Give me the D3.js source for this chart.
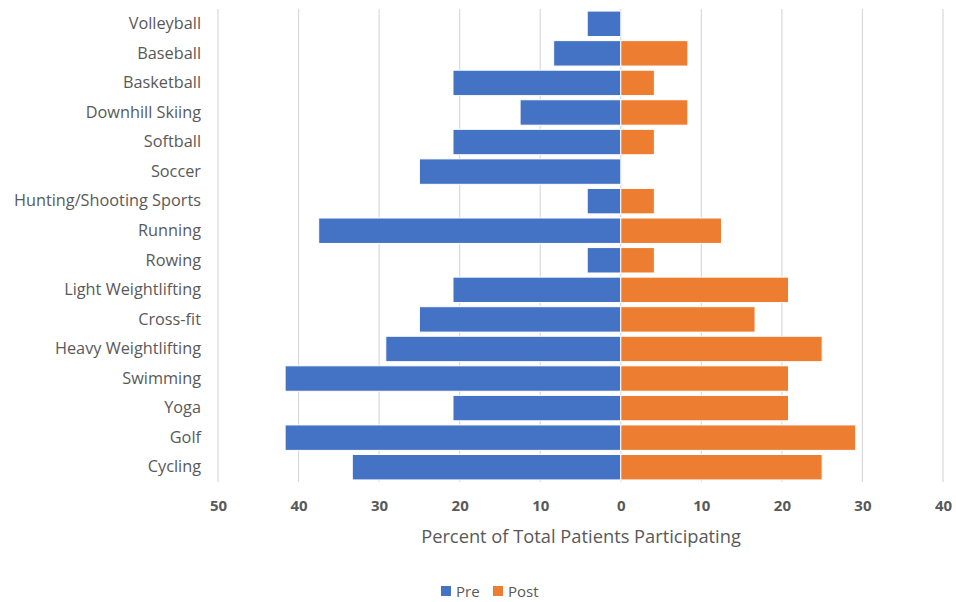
<!DOCTYPE html>
<html><head><meta charset="utf-8">
<script src="https://cdn.jsdelivr.net/npm/d3@7"></script>
<style>body{margin:0;background:#fff}svg{display:block}</style>
</head><body>
<svg id="chart" width="956" height="602"></svg>
<script>
const categories = ["Volleyball","Baseball","Basketball","Downhill Skiing","Softball","Soccer","Hunting/Shooting Sports","Running","Rowing","Light Weightlifting","Cross-fit","Heavy Weightlifting","Swimming","Yoga","Golf","Cycling"];
const preValues  = [4.17,8.33,20.83,12.5,20.83,25,4.17,37.5,4.17,20.83,25,29.17,41.67,20.83,41.67,33.33];
const postValues = [0,8.33,4.17,8.33,4.17,0,4.17,12.5,4.17,20.83,16.67,25,20.83,20.83,29.17,25];
const xTicks = [-50,-40,-30,-20,-10,0,10,20,30,40];
const seriesNames = ["Pre","Post"];
const colors = ["#4472C4","#ED7D31"];

const svg = d3.select("#chart");
const font = "'Open Sans', sans-serif";
const x = d3.scaleLinear().domain([-50,40]).range([218,943]);
const y = d3.scaleBand().domain(categories).range([9,482]).paddingInner(0.14).paddingOuter(0.07);

// gridlines
svg.append("g").selectAll("line").data(xTicks).join("line")
  .attr("x1",d=>x(d)).attr("x2",d=>x(d)).attr("y1",9).attr("y2",482)
  .attr("stroke","#d9d9d9").attr("stroke-width",1.2);

// bars
svg.append("g").selectAll("rect").data(categories).join("rect")
  .attr("x",(d,i)=>x(-preValues[i])).attr("width",(d,i)=>x(0)-x(-preValues[i]))
  .attr("y",d=>y(d)).attr("height",y.bandwidth())
  .attr("fill",colors[0]).attr("stroke","#fff").attr("stroke-width",1);
svg.append("g").selectAll("rect").data(categories).join("rect")
  .attr("x",x(0)).attr("width",(d,i)=>x(postValues[i])-x(0))
  .attr("y",d=>y(d)).attr("height",y.bandwidth())
  .attr("fill",colors[1]).attr("stroke","#fff").attr("stroke-width",1);

// y axis labels
const yAxis = d3.axisLeft(y).tickSize(0).tickPadding(0);
const yg = svg.append("g").attr("transform","translate(201,0)").call(yAxis);
yg.select(".domain").remove();
yg.selectAll("text").attr("font-family",font).attr("font-size",16.3).attr("fill","#595959");

// x axis labels
const xAxis = d3.axisBottom(x).tickValues(xTicks).tickFormat(d=>Math.abs(d)).tickSize(0).tickPadding(0);
const xg = svg.append("g").attr("transform","translate(0,500)").call(xAxis);
xg.select(".domain").remove();
xg.selectAll("text").attr("font-family",font).attr("font-size",15).attr("font-weight","bold").attr("fill","#595959");

// axis title
svg.append("text").attr("x",581).attr("y",543).attr("text-anchor","middle")
  .attr("font-family",font).attr("font-size",18.3).attr("fill","#595959")
  .text("Percent of Total Patients Participating");

// legend
const lg = svg.append("g").attr("transform","translate(441,586)");
seriesNames.forEach((s,i)=>{
  const g = lg.append("g").attr("transform",`translate(${i*52},0)`);
  g.append("rect").attr("x",0).attr("y",0).attr("width",10).attr("height",10).attr("fill",colors[i]);
  g.append("text").attr("x",15).attr("y",10.5).attr("font-family",font).attr("font-size",15).attr("fill","#595959").text(s);
});
</script>
</body></html>
